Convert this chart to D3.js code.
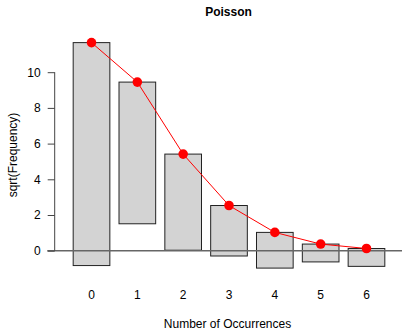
<!DOCTYPE html>
<html>
<head>
<meta charset="utf-8">
<script src="https://cdn.jsdelivr.net/npm/d3@7"></script>
<style>
  html, body { margin: 0; padding: 0; background: #fff; }
  svg { display: block; }
  text { font-family: "Liberation Sans", Arial, Helvetica, sans-serif; fill: #000; }
</style>
</head>
<body>
<div id="chart"></div>
<script>
// Hanging rootogram: observed counts hang from the fitted Poisson curve
const occurrences = [0, 1, 2, 3, 4, 5, 6];
const observed = [156, 63, 29, 8, 4, 1, 1];
const fitted = [135.9, 89.22, 29.29, 6.409, 1.052, 0.1381, 0.01511];
const yTicks = [0, 2, 4, 6, 8, 10];

const width = 402, height = 330;

const svg = d3.select("#chart").append("svg")
  .attr("width", width)
  .attr("height", height);

const x = d3.scaleBand()
  .domain(occurrences)
  .range([68.6, 389.4])
  .paddingInner(0.2)
  .paddingOuter(0.1);

const y = d3.scaleLinear()
  .domain([0, 10])
  .range([250.7, 72.2]);

const rows = occurrences.map((k, i) => {
  const top = Math.sqrt(fitted[i]);
  return { k, top, bottom: top - Math.sqrt(observed[i]) };
});

// bars
svg.append("g")
  .selectAll("rect")
  .data(rows)
  .join("rect")
  .attr("x", d => x(d.k))
  .attr("width", x.bandwidth())
  .attr("y", d => y(d.top))
  .attr("height", d => y(d.bottom) - y(d.top))
  .attr("fill", "#d3d3d3")
  .attr("stroke", "#222")
  .attr("stroke-width", 1);

// zero reference line
svg.append("line")
  .attr("x1", 47.3).attr("x2", width)
  .attr("y1", y(0)).attr("y2", y(0))
  .attr("stroke", "#666")
  .attr("stroke-width", 1.6);

// fitted curve
const line = d3.line()
  .x(d => x(d.k) + x.bandwidth() / 2)
  .y(d => y(d.top));

svg.append("path")
  .datum(rows)
  .attr("d", line)
  .attr("fill", "none")
  .attr("stroke", "#ff0000")
  .attr("stroke-width", 1);

svg.append("g")
  .selectAll("circle")
  .data(rows)
  .join("circle")
  .attr("cx", d => x(d.k) + x.bandwidth() / 2)
  .attr("cy", d => y(d.top))
  .attr("r", 4.8)
  .attr("fill", "#ff0000");

// y axis
const yAxis = d3.axisLeft(y)
  .tickValues(yTicks)
  .tickSize(7)
  .tickPadding(7)
  .tickFormat(d3.format("d"));

const gy = svg.append("g")
  .attr("transform", "translate(54.7,0)")
  .call(yAxis);
gy.select(".domain").attr("stroke", "#444").attr("d", `M0,${y(0)}V${y(10)}`);
gy.selectAll(".tick line").attr("stroke", "#444");
gy.selectAll(".tick text")
  .style("font-size", "12px")
  .style("font-family", "'Liberation Sans', Arial, sans-serif")
  .attr("fill", "#000");

// x category labels (no axis line)
svg.append("g")
  .selectAll("text")
  .data(occurrences)
  .join("text")
  .attr("x", d => x(d) + x.bandwidth() / 2)
  .attr("y", 298.5)
  .attr("text-anchor", "middle")
  .style("font-size", "12px")
  .text(d => d);

// titles
svg.append("text")
  .attr("x", 228.5)
  .attr("y", 16)
  .attr("text-anchor", "middle")
  .style("font-size", "12px")
  .style("font-weight", "bold")
  .text("Poisson");

svg.append("text")
  .attr("x", 227.5)
  .attr("y", 327.5)
  .attr("text-anchor", "middle")
  .style("font-size", "12px")
  .text("Number of Occurrences");

svg.append("text")
  .attr("transform", "translate(17,155) rotate(-90)")
  .attr("text-anchor", "middle")
  .style("font-size", "12px")
  .text("sqrt(Frequency)");
</script>
</body>
</html>
